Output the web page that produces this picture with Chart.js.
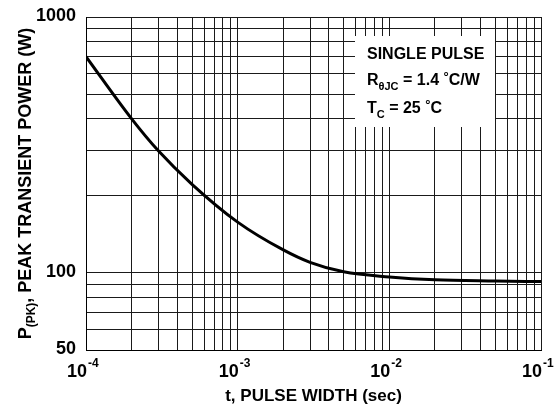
<!DOCTYPE html>
<html>
<head>
<meta charset="utf-8">
<script src="https://cdn.jsdelivr.net/npm/chart.js@4/dist/chart.umd.min.js"></script>
<style>
    html, body { margin: 0; padding: 0; background: #fff; }
    #wrap { width: 554px; height: 410px; }
</style>
</head>
<body>
<div id="wrap"><canvas id="graph-power"></canvas></div>
<script>
// values
var pulse_width = [1e-4, 2e-4, 3e-4, 5e-4, 1e-3, 2e-3, 3e-3, 5e-3, 1e-2, 2e-2, 5e-2, 1e-1];
var peak_power = [700, 400, 300, 222, 158, 123, 110, 101, 96.5, 94, 93, 92.5];

// grid lines / ticks
var x_grid = [1e-4, 2e-4, 3e-4, 4e-4, 5e-4, 6e-4, 7e-4, 8e-4, 9e-4,
    1e-3, 2e-3, 3e-3, 4e-3, 5e-3, 6e-3, 7e-3, 8e-3, 9e-3,
    1e-2, 2e-2, 3e-2, 4e-2, 5e-2, 6e-2, 7e-2, 8e-2, 9e-2, 1e-1];
var y_grid = [50, 60, 70, 80, 90, 100, 200, 300, 400, 500, 600, 700, 800, 900, 1000];
var x_labels = [[1e-4, "-4"], [1e-3, "-3"], [1e-2, "-2"], [1e-1, "-1"]];
var y_labels = [50, 100, 1000];

var FONT = "'Liberation Sans', Arial, Helvetica, sans-serif";

function font(size) {
    return "bold " + size + "px " + FONT;
}

// draws a list of [text, size, dy] runs one after the other
function drawRuns(ctx, x, y, runs) {
    for (var i = 0; i < runs.length; i++) {
        ctx.font = font(runs[i][1]);
        ctx.fillText(runs[i][0], x, y + (runs[i][2] || 0));
        x += ctx.measureText(runs[i][0]).width;
    }
}

function runsWidth(ctx, runs) {
    var w = 0;
    for (var i = 0; i < runs.length; i++) {
        ctx.font = font(runs[i][1]);
        w += ctx.measureText(runs[i][0]).width;
    }
    return w;
}

var inset = {
    id: "inset",
    beforeDatasetsDraw: function (chart) {
        var ctx = chart.ctx;
        ctx.save();
        ctx.fillStyle = "#fff";
        ctx.fillRect(355, 36, 140, 91);
        ctx.restore();
    },
    afterDraw: function (chart) {
        var ctx = chart.ctx;
        var xs = chart.scales.x;
        var ys = chart.scales.y;
        var area = chart.chartArea;
        ctx.save();
        ctx.fillStyle = "#000";
        ctx.textBaseline = "alphabetic";

        // inset text
        ctx.textAlign = "left";
        drawRuns(ctx, 367, 59, [["SINGLE PULSE", 16]]);
        drawRuns(ctx, 367, 85, [["R", 16], ["\u03B8JC", 11, 5], [" = 1.4 ", 16], ["\u00B0", 13, -4], ["C/W", 16]]);
        drawRuns(ctx, 367, 113, [["T", 16], ["C", 11, 5], [" = 25 ", 16], ["\u00B0", 13, -4], ["C", 16]]);

        // y tick labels
        ctx.font = font(18);
        ctx.textAlign = "right";
        ctx.textBaseline = "middle";
        y_labels.forEach(function (v) {
            ctx.fillText(String(v), 76, ys.getPixelForValue(v) - 1);
        });

        // x tick labels, 10 with a raised exponent
        ctx.textBaseline = "alphabetic";
        x_labels.forEach(function (l) {
            var px = xs.getPixelForValue(l[0]);
            ctx.font = font(18);
            ctx.textAlign = "right";
            ctx.fillText("10", px + 1, 377);
            ctx.font = font(12);
            ctx.textAlign = "left";
            ctx.fillText(l[1], px + 2, 367);
        });

        // x axis title
        ctx.font = font(17);
        ctx.textAlign = "center";
        ctx.fillText("t, PULSE WIDTH (sec)", (area.left + area.right) / 2, 401);

        // y axis title, rotated
        var runs = [["P", 18], ["(PK)", 12, 4], [", PEAK TRANSIENT POWER (W)", 18]];
        ctx.translate(31, (area.top + area.bottom) / 2);
        ctx.rotate(-Math.PI / 2);
        ctx.textAlign = "left";
        drawRuns(ctx, -runsWidth(ctx, runs) / 2, 0, runs);
        ctx.restore();
    }
};

function gridScale(min, max, values) {
    return {
        type: "logarithmic",
        min: min,
        max: max,
        afterBuildTicks: function (scale) {
            scale.ticks = values.map(function (v) {
                return {value: v};
            });
        },
        ticks: {display: false},
        grid: {color: "#1a1a1a", lineWidth: 1, drawTicks: false},
        border: {display: true, color: "#000", width: 1}
    };
}

var points = [];
for (var i = 0; i < pulse_width.length; i++) {
    points.push({x: pulse_width[i], y: peak_power[i]});
}

new Chart(document.getElementById("graph-power"), {
    type: "line",
    data: {
        datasets: [{
            data: points,
            borderColor: "#000",
            borderWidth: 3,
            pointRadius: 0,
            cubicInterpolationMode: "monotone",
            fill: false
        }]
    },
    options: {
        responsive: true,
        maintainAspectRatio: false,
        animation: false,
        layout: {padding: {left: 86, right: 13, top: 17, bottom: 60}},
        plugins: {legend: {display: false}, tooltip: {enabled: false}},
        scales: {
            x: gridScale(1e-4, 1e-1, x_grid),
            y: gridScale(50, 1000, y_grid)
        }
    },
    plugins: [inset]
});
</script>
</body>
</html>
